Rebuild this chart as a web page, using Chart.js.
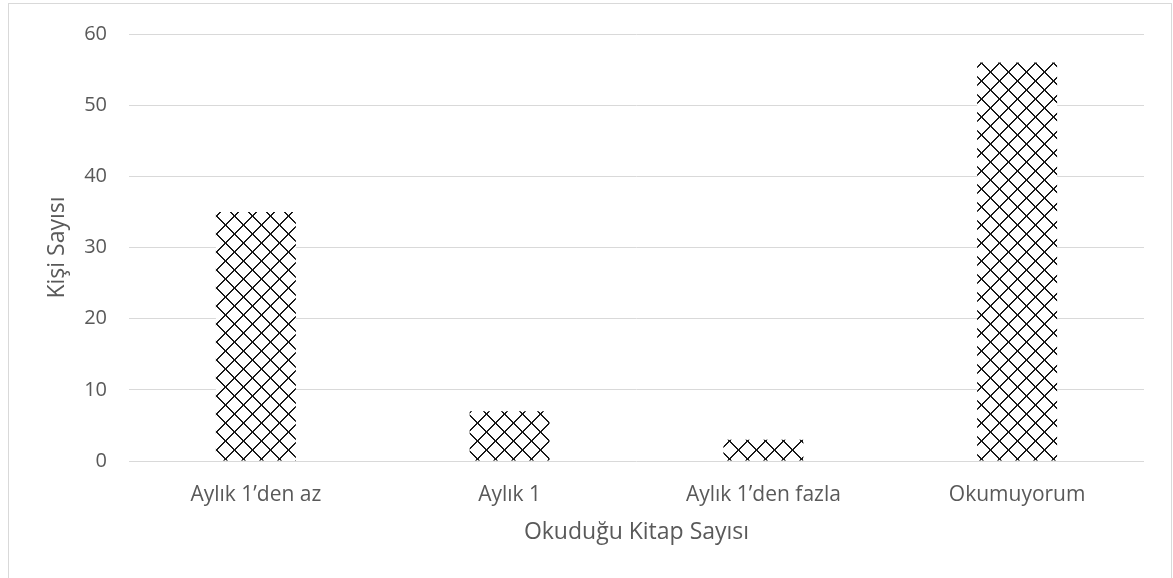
<!DOCTYPE html>
<html>
<head>
    <title>Okuduğu Kitap Sayısı</title>
    <style>
        body { margin: 0; background: #fff; }
        .chart-container { width: 1173px; height: 578px; position: relative; }
    </style>
    <script src="https://cdn.jsdelivr.net/npm/chart.js@4/dist/chart.umd.min.js"></script>
</head>
<body>
    <div class="chart-container">
        <canvas id="bookChart"></canvas>
    </div>
    <script>
        const categories = ['Aylık 1’den az', 'Aylık 1', 'Aylık 1’den fazla', 'Okumuyorum'];
        const personCounts = [35, 7, 3, 56];
        const yTicks = [0, 10, 20, 30, 40, 50, 60];

        const fontFamily = '"Open Sans", "Noto Sans", sans-serif';
        const textColor = '#595959';
        const gridColor = '#d9d9d9';

        // crosshatch tile, dotted diagonal lines like the office pattern fill
        function makeHatch() {
            const size = 18;
            const c = document.createElement('canvas');
            c.width = size;
            c.height = size;
            const g = c.getContext('2d');
            g.fillStyle = '#fff';
            g.fillRect(0, 0, size, size);
            g.fillStyle = '#1a1a1a';
            for (let x = 0; x < size; x++) {
                for (let y = 0; y < size; y++) {
                    const d1 = ((x - y) % size + size) % size;
                    const d2 = (x + y) % size;
                    if (d1 === 0 || d1 === 1 || d2 === 0 || d2 === 17) {
                        g.fillRect(x, y, 1, 1);
                    }
                }
            }
            return g.createPattern(c, 'repeat');
        }

        // light frame around the whole chart
        const framePlugin = {
            id: 'frame',
            beforeDraw(chart) {
                const ctx = chart.ctx;
                ctx.save();
                ctx.strokeStyle = gridColor;
                ctx.lineWidth = 1;
                ctx.strokeRect(8.5, 3.5, 1163, 600);
                ctx.restore();
            }
        };

        const ctx = document.getElementById('bookChart').getContext('2d');
        new Chart(ctx, {
            type: 'bar',
            data: {
                labels: categories,
                datasets: [{
                    label: 'Kişi Sayısı',
                    data: personCounts,
                    backgroundColor: makeHatch(),
                    borderWidth: 0,
                    categoryPercentage: 1,
                    barPercentage: 0.315
                }]
            },
            options: {
                responsive: true,
                maintainAspectRatio: false,
                animation: false,
                layout: { padding: { left: 8, right: 29, top: 33, bottom: 0 } },
                plugins: {
                    legend: { display: false },
                    tooltip: { enabled: false }
                },
                scales: {
                    x: {
                        afterFit: scale => { scale.height = 117; },
                        grid: { display: false, drawTicks: false },
                        border: { display: false },
                        ticks: { color: textColor, font: { family: fontFamily, size: 21 }, padding: 21 },
                        title: {
                            display: true,
                            text: 'Okuduğu Kitap Sayısı',
                            color: textColor,
                            font: { family: fontFamily, size: 23 },
                            padding: { top: 0, bottom: 32 }
                        }
                    },
                    y: {
                        min: 0,
                        max: 60,
                        afterBuildTicks: scale => { scale.ticks = yTicks.map(v => ({ value: v })); },
                        afterFit: scale => { scale.width = 121; },
                        grid: { color: gridColor, drawTicks: false },
                        border: { display: false },
                        ticks: { color: textColor, font: { family: fontFamily, size: 20 }, padding: 22 },
                        title: {
                            display: true,
                            text: 'Kişi Sayısı',
                            color: textColor,
                            font: { family: fontFamily, size: 23 },
                            padding: { top: 36, bottom: 0 }
                        }
                    }
                }
            },
            plugins: [framePlugin]
        });
    </script>
</body>
</html>
